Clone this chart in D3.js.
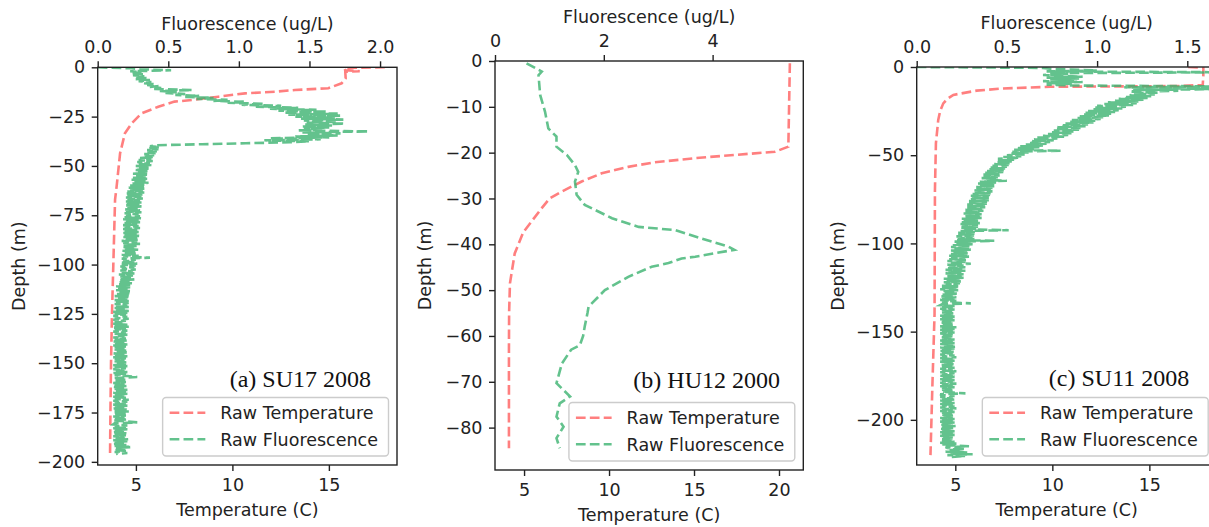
<!DOCTYPE html>
<html>
<head>
<meta charset="utf-8">
<script src="https://cdnjs.cloudflare.com/ajax/libs/d3/7.8.5/d3.min.js"></script>
<style>
body{margin:0;background:#fff;}
svg{display:block;}
</style>
</head>
<body>
<div id="chart"></div>
<script>
// ---- data ----
var panelNames = ["(a) SU17 2008", "(b) HU12 2000", "(c) SU11 2008"];
var legendLabels = ["Raw Temperature", "Raw Fluorescence"];

// (a) SU17 2008
var tempDepthA = [0,-0.3,-1.5,-2,-2.3,-5.6,-8.1,-10.6,-11.5,-12.4,-13.2,-14.9,-16.6,-17.4,-20,-23.3,-28.4,-33.5,-43.6,-60.5,-67,-100,-125,-150,-175,-197];
var tempA = [17.9,15.8,15.85,16.6,15.85,15.87,15.66,14.97,13.24,12.2,10.65,9.27,7.89,7.0,6.16,5.3,4.78,4.43,4.18,4.0,3.92,3.83,3.76,3.71,3.68,3.66];
var fluorStepA = 0.5; // one reading every half metre from the surface
var fluorA = [
  0.00,0.24,0.30,0.52,0.23,0.31,0.24,0.32,0.25,0.33,
  0.26,0.35,0.27,0.37,0.29,0.38,0.32,0.40,0.35,0.43,
  0.37,0.45,0.40,0.67,0.44,0.56,0.48,0.62,0.55,0.72,
  0.62,0.82,0.70,0.92,0.82,1.05,0.92,1.18,1.02,1.30,
  1.12,1.42,1.22,1.55,1.28,1.62,1.32,1.70,1.35,1.72,
  1.40,1.68,1.44,1.74,1.46,1.70,1.48,1.75,1.47,1.66,
  1.45,1.64,1.46,1.60,1.42,1.92,1.45,1.72,1.48,1.70,
  1.40,1.64,1.22,1.58,1.18,1.50,1.36,1.05,0.74,0.42,
  0.37,0.44,0.36,0.43,0.35,0.42,0.34,0.41,0.33,0.40,
  0.32,0.39,0.30,0.38,0.29,0.39,0.28,0.37,0.29,0.38,
  0.27,0.36,0.28,0.37,0.26,0.36,0.27,0.35,0.25,0.36,
  0.26,0.34,0.25,0.35,0.24,0.34,0.26,0.36,0.24,0.33,
  0.23,0.34,0.22,0.33,0.23,0.32,0.21,0.33,0.20,0.32,
  0.21,0.31,0.20,0.32,0.21,0.30,0.20,0.31,0.19,0.30,
  0.20,0.31,0.21,0.29,0.19,0.30,0.20,0.31,0.19,0.29,
  0.20,0.30,0.19,0.31,0.18,0.29,0.20,0.30,0.19,0.28,
  0.18,0.29,0.19,0.30,0.18,0.28,0.19,0.29,0.18,0.28,
  0.19,0.30,0.18,0.28,0.19,0.29,0.17,0.28,0.18,0.30,
  0.17,0.28,0.18,0.27,0.19,0.29,0.17,0.27,0.18,0.28,
  0.17,0.29,0.18,0.37,0.17,0.27,0.18,0.26,0.17,0.28,
  0.17,0.27,0.16,0.26,0.17,0.27,0.16,0.25,0.17,0.26,
  0.15,0.25,0.16,0.24,0.15,0.26,0.16,0.24,0.15,0.25,
  0.14,0.24,0.13,0.23,0.14,0.22,0.13,0.24,0.14,0.23,
  0.13,0.22,0.12,0.23,0.13,0.21,0.12,0.22,0.13,0.22,
  0.12,0.21,0.13,0.22,0.12,0.20,0.13,0.22,0.11,0.21,
  0.12,0.20,0.11,0.21,0.12,0.22,0.11,0.20,0.12,0.19,
  0.11,0.21,0.12,0.22,0.11,0.20,0.12,0.21,0.11,0.20,
  0.12,0.21,0.13,0.19,0.11,0.20,0.12,0.21,0.11,0.20,
  0.12,0.21,0.11,0.20,0.12,0.19,0.11,0.21,0.12,0.22,
  0.11,0.20,0.12,0.21,0.11,0.20,0.12,0.19,0.11,0.21,
  0.12,0.20,0.11,0.21,0.12,0.20,0.11,0.19,0.12,0.21,
  0.11,0.20,0.12,0.21,0.28,0.12,0.11,0.21,0.12,0.20,
  0.11,0.19,0.12,0.21,0.11,0.20,0.12,0.21,0.13,0.20,
  0.11,0.21,0.12,0.19,0.11,0.20,0.12,0.22,0.11,0.21,
  0.12,0.20,0.11,0.21,0.12,0.20,0.11,0.21,0.12,0.22,
  0.11,0.21,0.12,0.20,0.11,0.19,0.12,0.21,0.11,0.20,
  0.28,0.12,0.11,0.21,0.12,0.20,0.11,0.21,0.12,0.20,
  0.11,0.21,0.12,0.20,0.11,0.19,0.12,0.22,0.11,0.21,
  0.12,0.20,0.11,0.21,0.12,0.24,0.13,0.21,0.12,0.20,
  0.12,0.21,0.13];

// (b) HU12 2000
var tempDepthB = [-0.5,-18.7,-19.8,-20.5,-21.2,-22.1,-23.1,-24.5,-26.3,-28.5,-30,-32.1,-37.4,-42,-48.5,-55,-63,-84.5];
var tempB = [20.64,20.55,19.76,17.4,15.05,12.7,11.13,9.57,8.39,7.21,6.5,6.04,4.95,4.45,4.17,4.12,4.11,4.11];
var fluorDepthB = [-0.5,-2.3,-3.1,-7.4,-11.1,-14.7,-16.5,-18.7,-20.5,-22.7,-24.2,-26.3,-29.2,-31.4,-34.3,-36.2,-36.9,-38.3,-40.5,-41.2,
  -42.7,-43.1,-44.1,-44.9,-47.1,-50,-53.6,-55,-57.9,-60,-62,-63,-66,-70.3,-73.2,-74.7,-77.6,-79.8,-82.3,-84.5];
var fluorB = [0.58,0.86,0.80,0.83,0.92,0.98,1.13,1.13,1.32,1.47,1.53,1.47,1.50,1.65,2.15,2.64,3.31,3.68,4.29,4.40,
  3.68,3.43,3.19,2.88,2.45,2.02,1.72,1.70,1.65,1.62,1.56,1.40,1.23,1.13,1.38,1.19,1.13,1.26,1.13,1.19];

// (c) SU11 2008
var tempDepthC = [0,-0.5,-5,-10.2,-10.8,-11.2,-12.2,-13.4,-15.8,-18,-20.6,-25,-30,-43.3,-70,-140,-180,-220];
var tempC = [17.0,17.78,17.78,17.75,16.5,9.9,7.4,6.1,4.9,4.6,4.38,4.22,4.12,4.0,3.95,3.93,3.82,3.72];
var fluorStepC = 0.5;
var fluorC = [
  0.00,0.70,0.74,0.86,1.00,0.72,1.75,0.74,0.84,0.70,
  0.80,0.92,0.72,0.90,0.74,0.88,0.70,0.92,0.72,0.86,
  0.72,0.86,1.75,1.15,1.35,1.70,1.20,1.45,1.18,1.34,
  1.20,1.32,1.18,1.30,1.16,1.28,1.12,1.26,1.10,1.24,
  1.06,1.22,1.04,1.20,1.00,1.16,0.99,1.14,0.98,1.12,
  0.95,1.10,0.93,1.08,0.92,1.07,0.90,1.04,0.89,1.02,
  0.86,0.99,0.85,0.98,0.82,0.95,0.81,0.94,0.78,0.92,
  0.77,0.90,0.76,0.88,0.75,0.86,0.72,0.84,0.70,0.82,
  0.66,0.78,0.65,0.76,0.64,0.74,0.62,0.72,0.60,0.70,
  0.57,0.68,0.55,0.65,0.54,0.80,0.53,0.62,0.52,0.60,
  0.50,0.58,0.48,0.57,0.45,0.54,0.45,0.53,0.44,0.52,
  0.43,0.51,0.42,0.50,0.41,0.49,0.40,0.49,0.39,0.48,
  0.38,0.47,0.37,0.46,0.37,0.45,0.36,0.45,0.39,0.50,
  0.35,0.44,0.34,0.43,0.34,0.43,0.33,0.42,0.33,0.42,
  0.32,0.42,0.31,0.41,0.31,0.41,0.30,0.40,0.30,0.40,
  0.30,0.40,0.29,0.39,0.29,0.39,0.28,0.38,0.28,0.38,
  0.28,0.37,0.27,0.37,0.27,0.36,0.26,0.36,0.27,0.35,
  0.26,0.36,0.25,0.35,0.26,0.34,0.25,0.35,0.24,0.34,
  0.25,0.34,0.24,0.33,0.26,0.51,0.24,0.33,0.23,0.32,
  0.23,0.33,0.22,0.31,0.23,0.32,0.22,0.43,0.21,0.30,
  0.21,0.31,0.20,0.30,0.19,0.29,0.20,0.30,0.19,0.28,
  0.20,0.29,0.19,0.28,0.18,0.29,0.19,0.27,0.18,0.28,
  0.17,0.27,0.18,0.30,0.17,0.26,0.18,0.27,0.17,0.26,
  0.16,0.27,0.17,0.25,0.16,0.26,0.17,0.25,0.16,0.26,
  0.15,0.24,0.16,0.25,0.15,0.24,0.16,0.23,0.14,0.24,
  0.14,0.22,0.13,0.23,0.14,0.22,0.15,0.23,0.14,0.21,
  0.13,0.22,0.14,0.21,0.13,0.22,0.14,0.20,0.30,0.14,
  0.13,0.21,0.14,0.20,0.13,0.21,0.14,0.20,0.13,0.21,
  0.14,0.20,0.13,0.21,0.14,0.20,0.13,0.21,0.14,0.20,
  0.13,0.21,0.14,0.20,0.13,0.22,0.14,0.21,0.13,0.20,
  0.14,0.21,0.13,0.20,0.14,0.21,0.13,0.20,0.14,0.21,
  0.13,0.20,0.14,0.21,0.13,0.20,0.14,0.22,0.13,0.21,
  0.14,0.20,0.13,0.21,0.14,0.20,0.13,0.21,0.14,0.22,
  0.13,0.20,0.14,0.21,0.13,0.20,0.14,0.21,0.13,0.20,
  0.14,0.21,0.13,0.20,0.14,0.22,0.13,0.21,0.14,0.20,
  0.13,0.21,0.14,0.20,0.13,0.21,0.14,0.20,0.13,0.22,
  0.14,0.20,0.13,0.21,0.14,0.20,0.13,0.21,0.14,0.20,
  0.27,0.13,0.14,0.21,0.13,0.20,0.14,0.21,0.13,0.20,
  0.14,0.21,0.13,0.20,0.14,0.21,0.13,0.22,0.14,0.20,
  0.13,0.21,0.14,0.20,0.13,0.21,0.14,0.20,0.13,0.21,
  0.14,0.20,0.13,0.21,0.14,0.20,0.13,0.22,0.14,0.21,
  0.13,0.20,0.14,0.21,0.13,0.20,0.14,0.21,0.13,0.20,
  0.14,0.21,0.13,0.20,0.14,0.21,0.13,0.22,0.14,0.20,
  0.29,0.16,0.17,0.27,0.18,0.25,0.16,0.28,0.18,0.31,
  0.17,0.27,0.19];

// tick values
var depthTicksA = [0,-25,-50,-75,-100,-125,-150,-175,-200];
var depthTicksB = [0,-10,-20,-30,-40,-50,-60,-70,-80];
var depthTicksC = [0,-50,-100,-150,-200];
var tempTicksA = [5,10,15];
var tempTicksB = [5,10,15,20];
var tempTicksC = [5,10,15];
var fluorTicksA = [0,0.5,1,1.5,2];
var fluorTicksB = [0,2,4];
var fluorTicksC = [0,0.5,1,1.5];

// ---- drawing ----
var W = 1209, H = 527;
var FONT = "'DejaVu Sans', sans-serif";
var FS = 17.5;
var RED = "rgba(255,0,0,0.5)", GREEN = "rgba(60,179,113,0.8)";

var svg = d3.select("#chart").append("svg")
  .attr("width", W).attr("height", H)
  .style("font-family", FONT);

var panels = [
  {name: panelNames[0], tD: tempDepthA, t: tempA,
   fD: fluorA.map(function(v,i){ return -i*fluorStepA; }), f: fluorA,
   left: 97.7, top: 67.3, right: 397, bottom: 465,
   yDom: [-201.6, 0], tDom: [3.02, 18.53], fDom: [0, 2.12],
   yTicks: depthTicksA, tTicks: tempTicksA, fTicks: fluorTicksA, fFmt: ".1f",
   ylabOff: 78.5, noteX: 371, noteY: 386.7},
  {name: panelNames[1], tD: tempDepthB, t: tempB, fD: fluorDepthB, f: fluorB,
   left: 495, top: 61, right: 803.3, bottom: 470,
   yDom: [-89.25, 0], tDom: [3.29, 21.43], fDom: [0, 5.667],
   yTicks: depthTicksB, tTicks: tempTicksB, fTicks: fluorTicksB, fFmt: "d",
   ylabOff: 70, noteX: 780, noteY: 388.3},
  {name: panelNames[2], tD: tempDepthC, t: tempC,
   fD: fluorC.map(function(v,i){ return -i*fluorStepC; }), f: fluorC,
   left: 916.7, top: 67, right: 1216.7, bottom: 465,
   yDom: [-225.6, 0], tDom: [3.01, 18.47], fDom: [0, 1.663],
   yTicks: depthTicksC, tTicks: tempTicksC, fTicks: fluorTicksC, fFmt: ".1f",
   ylabOff: 78.4, noteX: 1189.3, noteY: 386}
];

function styleAxis(g){
  g.attr("font-family", FONT).attr("font-size", FS);
  g.select(".domain").remove();
  g.selectAll(".tick line").attr("stroke", "#222").attr("stroke-width", 1.4);
  g.selectAll(".tick text").attr("fill", "#222");
}

panels.forEach(function(p, pi){
  var y = d3.scaleLinear().domain(p.yDom).range([p.bottom, p.top]);
  var xt = d3.scaleLinear().domain(p.tDom).range([p.left, p.right]);
  var xf = d3.scaleLinear().domain(p.fDom).range([p.left, p.right]);
  var g = svg.append("g");

  g.append("clipPath").attr("id", "clip" + pi)
    .append("rect")
    .attr("x", p.left).attr("y", p.top)
    .attr("width", p.right - p.left).attr("height", p.bottom - p.top);

  var plot = g.append("g").attr("clip-path", "url(#clip" + pi + ")");

  // temperature on the host axis
  var tempLine = d3.line()
    .x(function(d){ return xt(d[1]); })
    .y(function(d){ return y(d[0]); });
  plot.append("path")
    .datum(d3.zip(p.tD, p.t))
    .attr("d", tempLine)
    .attr("fill", "none").attr("stroke", RED)
    .attr("stroke-width", 2.6).attr("stroke-dasharray", "9.7,4.2");

  // fluorescence on the twin (top) axis
  var fluLine = d3.line()
    .x(function(d){ return xf(d[1]); })
    .y(function(d){ return y(d[0]); });
  plot.append("path")
    .datum(d3.zip(p.fD, p.f))
    .attr("d", fluLine)
    .attr("fill", "none").attr("stroke", GREEN)
    .attr("stroke-width", 2.6).attr("stroke-dasharray", "9.7,4.2");

  // axes
  g.append("g").attr("transform", "translate(" + p.left + ",0)")
    .call(d3.axisLeft(y).tickValues(p.yTicks).tickFormat(d3.format("d"))
      .tickSize(6).tickSizeOuter(0).tickPadding(6.5))
    .call(styleAxis);
  g.append("g").attr("transform", "translate(0," + p.bottom + ")")
    .call(d3.axisBottom(xt).tickValues(p.tTicks).tickFormat(d3.format("d"))
      .tickSize(6).tickSizeOuter(0).tickPadding(8))
    .call(styleAxis);
  g.append("g").attr("transform", "translate(0," + p.top + ")")
    .call(d3.axisTop(xf).tickValues(p.fTicks).tickFormat(d3.format(p.fFmt))
      .tickSize(6).tickSizeOuter(0).tickPadding(8.2))
    .call(styleAxis);

  // spines
  g.append("rect")
    .attr("x", p.left).attr("y", p.top)
    .attr("width", p.right - p.left).attr("height", p.bottom - p.top)
    .attr("fill", "none").attr("stroke", "#222").attr("stroke-width", 1.4);

  // axis labels
  var cx = (p.left + p.right) / 2, cy = (p.top + p.bottom) / 2;
  g.append("text").attr("x", cx).attr("y", p.top - 37.8)
    .attr("text-anchor", "middle").attr("font-size", FS).attr("fill", "#222")
    .text("Fluorescence (ug/L)");
  g.append("text").attr("x", cx).attr("y", p.bottom + 50.5)
    .attr("text-anchor", "middle").attr("font-size", FS).attr("fill", "#222")
    .text("Temperature (C)");
  g.append("text")
    .attr("transform", "translate(" + (p.left - p.ylabOff + 5.5) + "," + cy + ") rotate(-90)")
    .attr("text-anchor", "middle").attr("font-size", FS).attr("fill", "#222")
    .text("Depth (m)");

  // panel note
  g.append("text").attr("x", p.noteX).attr("y", p.noteY)
    .attr("text-anchor", "end")
    .attr("font-family", "'Liberation Serif', 'Times New Roman', serif")
    .attr("font-size", 24).attr("fill", "#111")
    .text(p.name);

  // legend
  var leg = g.append("g");
  var box = leg.append("rect")
    .attr("rx", 3.5).attr("ry", 3.5)
    .attr("fill", "rgba(255,255,255,0.8)")
    .attr("stroke", "#cccccc").attr("stroke-width", 1.4);
  var texts = [];
  legendLabels.forEach(function(lab, i){
    var row = leg.append("g").attr("transform", "translate(0," + (15.2 + i * 26.5) + ")");
    row.append("line").attr("x1", 7).attr("x2", 42.7)
      .attr("stroke", i === 0 ? RED : GREEN)
      .attr("stroke-width", 2.6).attr("stroke-dasharray", "9.7,4.2");
    texts.push(row.append("text").attr("x", 57.7).attr("dy", "0.36em")
      .attr("font-size", FS).attr("fill", "#222").text(lab));
  });
  var tw = d3.max(texts, function(t){ return t.node().getComputedTextLength(); });
  var bw = 57.7 + tw + 10.5, bh = 58.5;
  box.attr("width", bw).attr("height", bh);
  leg.attr("transform", "translate(" + (p.right - 8.5 - bw) + "," + (p.bottom - 9 - bh) + ")");
});
</script>
</body>
</html>
